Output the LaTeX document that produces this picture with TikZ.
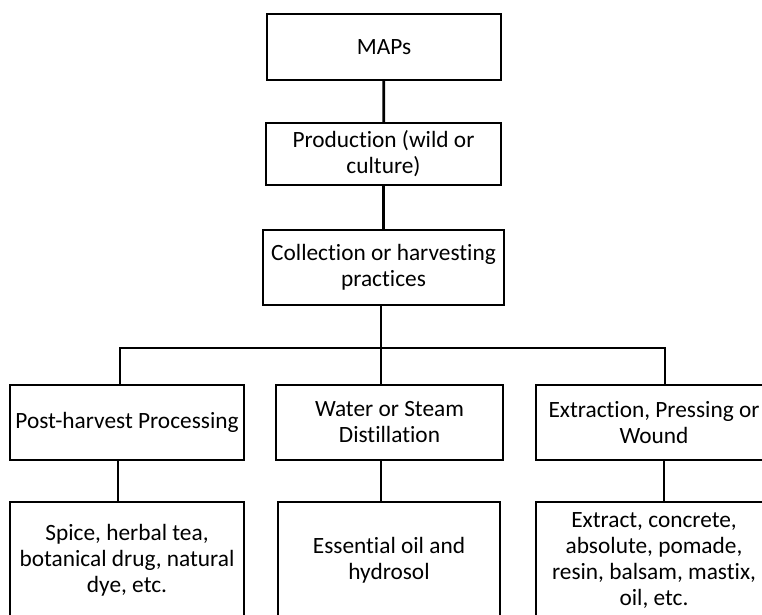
\documentclass[tikz,border=0pt]{standalone}
\usepackage{fontspec}
\setmainfont{Carlito}[Ligatures=NoCommon]
\usepackage{tikz}
\usetikzlibrary{positioning}

\tikzset{
  stagebox/.style={draw=black, line width=1.4pt, fill=white, align=center,
    inner sep=0pt, font=\fontsize{17.5}{19.5}\selectfont},
  link/.style={line width=2.1pt}
}

\begin{document}
\begin{tikzpicture}[x=0.75pt,y=0.75pt,yscale=-1,xscale=1]
\useasboundingbox (0,0) rectangle (762,614);
\clip (0,0) rectangle (762,614);

%Straight Lines (bus)
\coordinate (busL) at (120,348);
\coordinate (busR) at (665,348);
\coordinate (busM) at (381,348);

%Shape: Rectangle [top]
\node (maps) at (384,47) [stagebox, minimum width=234*0.75pt, minimum height=66*0.75pt] {MAPs};
%Shape: Rectangle
\node (prod) at (383.5,154) [stagebox, minimum width=235*0.75pt, minimum height=62*0.75pt] {Production (wild or\\culture)};
%Shape: Rectangle
\node (coll) at (383.5,267.5) [stagebox, minimum width=241*0.75pt, minimum height=75*0.75pt] {Collection or harvesting\\practices};

%Shape: Rectangle [processes]
\node (post) at (127,422.5) [stagebox, minimum width=234*0.75pt, minimum height=75*0.75pt] {Post-harvest Processing};
\node (water) at (389.5,422.5) [stagebox, minimum width=227*0.75pt, minimum height=75*0.75pt] {Water or Steam\\Distillation};
\node (extr) at (654,422.5) [stagebox, minimum width=236*0.75pt, minimum height=75*0.75pt] {Extraction, Pressing or\\Wound};

%Shape: Rectangle [products]
\node (spice) at (127,560) [stagebox, minimum width=234*0.75pt, minimum height=116*0.75pt] {Spice, herbal tea,\\botanical drug, natural\\dye, etc.};
\node (oil) at (389,560) [stagebox, minimum width=222*0.75pt, minimum height=116*0.75pt] {Essential oil and\\hydrosol};
\node (resin) at (654,560) [stagebox, minimum width=236*0.75pt, minimum height=116*0.75pt] {Extract, concrete,\\absolute, pomade,\\resin, balsam, mastix,\\oil, etc.};

%Straight Lines
\draw [link] (maps) -- (prod);
\draw [link] (prod) -- (coll);
\draw [link] (coll.south -| busM) -- (busM);
\draw [link] (post.north -| busL) |- (busR) -- (extr.north -| busR);
\draw [link] (busM) -- (water.north -| busM);
%Straight Lines
\draw [link] (post.south -| 118,0) -- (spice.north -| 118,0);
\draw [link] (water.south -| busM) -- (oil.north -| busM);
\draw [link] (extr.south -| 664,0) -- (resin.north -| 664,0);

\end{tikzpicture}
\end{document}
